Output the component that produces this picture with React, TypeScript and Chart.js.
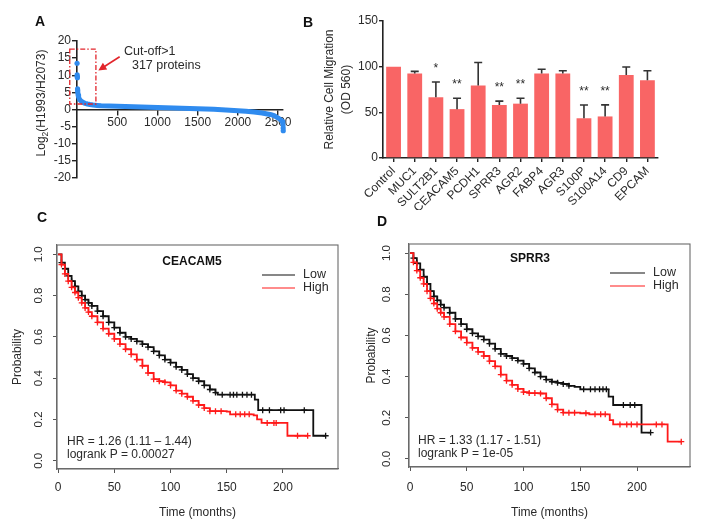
import React, { useEffect, useRef } from "react";
import { Chart, registerables } from "chart.js";

Chart.register(...registerables);

const FONT = "'Liberation Sans', Arial, Helvetica, sans-serif";
const INK = "#2a2a2a";

// ---------- Panel A : sorted log2 ratios ----------
const rankTopA = [1, 2, 3, 5, 7, 9];
const log2TopA = [13.5, 10.1, 9.6, 9.3, 6.0, 5.5];
const rankBandA = [10, 14, 20, 30, 45, 60, 80, 100, 130, 160, 200, 250, 300, 400, 500, 600, 700, 800, 900, 1000, 1100, 1200, 1300, 1400, 1500, 1600, 1700, 1800, 1900, 2000, 2100, 2200, 2300, 2400, 2450, 2500, 2530, 2550, 2558, 2561];
const log2BandA = [5.0, 4.2, 3.6, 3.0, 2.6, 2.3, 2.0, 1.8, 1.6, 1.45, 1.3, 1.2, 1.12, 1.02, 0.95, 0.86, 0.78, 0.72, 0.66, 0.6, 0.53, 0.46, 0.38, 0.3, 0.2, 0.12, 0.04, -0.06, -0.2, -0.38, -0.52, -0.72, -1.0, -1.45, -1.8, -2.5, -3.0, -3.5, -4.1, -4.6];
const rankBottomA = [2562, 2563, 2564, 2565];
const log2BottomA = [-5.4, -6.2, -6.9, -12.4];
const xTicksA = [500, 1000, 1500, 2000, 2500];
const yTicksA = [-20, -15, -10, -5, 0, 5, 10, 15, 20];
const cutBoxRankA = [-90, 235];
const cutBoxLog2A = [1.6, 17.6];
const cutLabelA = ["Cut-off>1", "317 proteins"];

// ---------- Panel B : relative cell migration ----------
const genesB = ["Control", "MUC1", "SULT2B1", "CEACAM5", "PCDH1", "SPRR3", "AGR2", "FABP4", "AGR3", "S100P", "S100A14", "CD9", "EPCAM"];
const migrationB = [100, 92.5, 66.5, 53.5, 79.5, 58, 59.5, 92.5, 92.5, 43.5, 45.5, 91, 85];
const errorB = [0, 2.3, 16.7, 12, 25, 4.3, 6, 4.7, 3, 14.5, 12.7, 8.7, 10.5];
const sigB = ["", "", "*", "**", "", "**", "**", "", "", "**", "**", "", ""];
const yTicksB = [0, 50, 100, 150];

// ---------- Panels C / D : Kaplan-Meier ----------
const kmTicksX = [0, 50, 100, 150, 200];
const kmTicksY = [0, 0.2, 0.4, 0.6, 0.8, 1.0];

const cLowT = [0, 3, 6, 9, 12, 15, 18, 21, 24, 27, 30, 35, 40, 45, 50, 55, 60, 65, 70, 75, 80, 85, 90, 95, 100, 105, 110, 115, 120, 125, 130, 135, 140, 142, 146, 153, 156, 159, 164, 168, 172, 175, 178, 182, 188, 198, 201, 219, 227, 238];
const cLowS = [1.0, 0.96, 0.93, 0.895, 0.87, 0.845, 0.82, 0.80, 0.78, 0.765, 0.75, 0.725, 0.70, 0.67, 0.645, 0.62, 0.60, 0.59, 0.578, 0.565, 0.55, 0.53, 0.51, 0.49, 0.475, 0.455, 0.44, 0.42, 0.40, 0.385, 0.365, 0.345, 0.33, 0.32, 0.32, 0.32, 0.32, 0.32, 0.32, 0.32, 0.32, 0.296, 0.245, 0.245, 0.245, 0.245, 0.245, 0.245, 0.121, 0.121];
const cHighT = [0, 3, 6, 9, 12, 15, 18, 21, 24, 27, 30, 35, 40, 45, 50, 55, 60, 65, 70, 75, 80, 85, 90, 95, 100, 105, 110, 115, 120, 125, 130, 135, 140, 145, 150, 153, 158, 162, 166, 170, 174, 177, 181, 186, 192, 194, 204, 213, 222];
const cHighS = [1.0, 0.95, 0.905, 0.87, 0.84, 0.815, 0.79, 0.765, 0.74, 0.72, 0.70, 0.67, 0.64, 0.615, 0.59, 0.565, 0.54, 0.515, 0.49, 0.46, 0.425, 0.395, 0.385, 0.38, 0.365, 0.34, 0.325, 0.31, 0.29, 0.27, 0.255, 0.24, 0.24, 0.24, 0.238, 0.225, 0.225, 0.225, 0.225, 0.225, 0.22, 0.20, 0.183, 0.183, 0.183, 0.183, 0.121, 0.121, 0.121];

const dLowT = [0, 3, 6, 9, 12, 15, 18, 21, 24, 27, 30, 35, 40, 45, 50, 55, 60, 65, 70, 75, 80, 85, 90, 95, 100, 105, 110, 115, 120, 125, 130, 135, 140, 145, 150, 153, 159, 163, 167, 170, 173, 175, 179, 188, 194, 198, 204, 212];
const dLowS = [1.0, 0.975, 0.95, 0.92, 0.885, 0.85, 0.815, 0.79, 0.77, 0.75, 0.735, 0.71, 0.68, 0.655, 0.63, 0.61, 0.595, 0.58, 0.56, 0.535, 0.51, 0.50, 0.49, 0.478, 0.462, 0.44, 0.42, 0.40, 0.385, 0.375, 0.37, 0.364, 0.355, 0.35, 0.338, 0.338, 0.338, 0.338, 0.338, 0.338, 0.338, 0.303, 0.262, 0.262, 0.262, 0.262, 0.128, 0.128];
const dHighT = [0, 3, 6, 9, 12, 15, 18, 21, 24, 27, 30, 35, 40, 45, 50, 55, 60, 65, 70, 75, 80, 85, 90, 95, 100, 105, 110, 115, 120, 125, 130, 135, 140, 145, 150, 155, 158, 163, 168, 172, 176, 179, 185, 191, 195, 200, 217, 222, 227, 239];
const dHighS = [1.0, 0.955, 0.915, 0.88, 0.85, 0.815, 0.78, 0.755, 0.73, 0.71, 0.69, 0.655, 0.62, 0.59, 0.565, 0.54, 0.52, 0.50, 0.475, 0.45, 0.41, 0.38, 0.36, 0.34, 0.325, 0.32, 0.32, 0.318, 0.295, 0.265, 0.24, 0.225, 0.225, 0.225, 0.222, 0.222, 0.217, 0.217, 0.217, 0.217, 0.189, 0.168, 0.168, 0.168, 0.168, 0.168, 0.168, 0.168, 0.084, 0.084];

// ---------- helpers ----------
const fixedTicks = (vals: number[]) => (s: any) => {
  s.ticks = vals.map((v) => ({ value: v }));
};

function text(ctx: CanvasRenderingContext2D, s: string, x: number, y: number, o: any = {}) {
  ctx.save();
  ctx.font = `${o.bold ? "bold " : ""}${o.size || 12}px ${FONT}`;
  ctx.fillStyle = o.color || INK;
  ctx.textAlign = o.align || "left";
  ctx.textBaseline = o.baseline || "middle";
  ctx.translate(x, y);
  if (o.rot) ctx.rotate(o.rot);
  ctx.fillText(s, 0, 0);
  ctx.restore();
}

const BLUE = "#2F8BEF";
const BAR = "#F96565";

function configA(): any {
  const plug = {
    id: "panelA",
    afterDraw(chart: any) {
      const { ctx, scales } = chart;
      const x = scales.x, y = scales.y;
      ctx.save();
      ctx.strokeStyle = "#E2252B";
      ctx.lineWidth = 1.3;
      ctx.setLineDash([5, 2, 1.5, 2]);
      const bx0 = x.getPixelForValue(cutBoxRankA[0]);
      const bx1 = x.getPixelForValue(cutBoxRankA[1]);
      const by0 = y.getPixelForValue(cutBoxLog2A[0]);
      const by1 = y.getPixelForValue(cutBoxLog2A[1]);
      ctx.strokeRect(bx0, by1, bx1 - bx0, by0 - by1);
      ctx.restore();
      const ax0 = x.getPixelForValue(530), ay0 = y.getPixelForValue(15.4);
      const ax1 = x.getPixelForValue(265), ay1 = y.getPixelForValue(11.4);
      ctx.save();
      ctx.strokeStyle = "#E2252B";
      ctx.fillStyle = "#E2252B";
      ctx.lineWidth = 1.6;
      const ang = Math.atan2(ay1 - ay0, ax1 - ax0);
      ctx.beginPath();
      ctx.moveTo(ax0, ay0);
      ctx.lineTo(ax1 - 5 * Math.cos(ang), ay1 - 5 * Math.sin(ang));
      ctx.stroke();
      ctx.beginPath();
      ctx.moveTo(ax1, ay1);
      ctx.lineTo(ax1 - 8 * Math.cos(ang) + 4 * Math.sin(ang), ay1 - 8 * Math.sin(ang) - 4 * Math.cos(ang));
      ctx.lineTo(ax1 - 8 * Math.cos(ang) - 4 * Math.sin(ang), ay1 - 8 * Math.sin(ang) + 4 * Math.cos(ang));
      ctx.closePath();
      ctx.fill();
      ctx.restore();
      text(ctx, cutLabelA[0], x.getPixelForValue(584), y.getPixelForValue(16.8), { size: 12.5 });
      text(ctx, cutLabelA[1], x.getPixelForValue(683), y.getPixelForValue(12.7), { size: 12.5 });
      ctx.save();
      ctx.translate(42, 103);
      ctx.rotate(-Math.PI / 2);
      ctx.fillStyle = INK;
      ctx.textBaseline = "middle";
      ctx.textAlign = "left";
      const f1 = `12px ${FONT}`, f2 = `8.5px ${FONT}`;
      ctx.font = f1;
      const w1 = ctx.measureText("Log").width;
      const w3 = ctx.measureText("(H1993/H2073)").width;
      ctx.font = f2;
      const w2 = ctx.measureText("2").width;
      let cx = -(w1 + w2 + w3) / 2;
      ctx.font = f1;
      ctx.fillText("Log", cx, 0);
      cx += w1;
      ctx.font = f2;
      ctx.fillText("2", cx, 4);
      cx += w2;
      ctx.font = f1;
      ctx.fillText("(H1993/H2073)", cx, 0);
      ctx.restore();
      text(ctx, "A", 40, 22, { bold: true, size: 14, align: "center", color: "#111" });
    },
  };
  const axisCommon = {
    grid: { drawOnChartArea: false, tickLength: 5, color: "#222", lineWidth: 1.4 },
    border: { display: true, color: "#222", width: 1.6 },
  };
  return {
    type: "scatter",
    data: {
      datasets: [
        {
          data: rankBandA.map((r, i) => ({ x: r, y: log2BandA[i] })),
          showLine: true,
          borderColor: BLUE,
          borderWidth: 5,
          borderCapStyle: "round",
          borderJoinStyle: "round",
          pointRadius: 0,
          clip: false,
        },
        {
          data: rankTopA.map((r, i) => ({ x: r, y: log2TopA[i] })),
          pointRadius: 2.6,
          backgroundColor: BLUE,
          borderWidth: 0,
          clip: false,
        },
        {
          data: rankBottomA.map((r, i) => ({ x: r, y: log2BottomA[i] })),
          pointRadius: 2.6,
          backgroundColor: BLUE,
          borderWidth: 0,
          clip: false,
        },
      ],
    },
    options: {
      responsive: false,
      animation: false,
      events: [],
      layout: { padding: { left: 37, top: 41, right: 17, bottom: 22 } },
      plugins: { legend: { display: false }, tooltip: { enabled: false } },
      scales: {
        x: {
          type: "linear",
          position: { y: 0 },
          min: 0,
          max: 2560,
          afterBuildTicks: fixedTicks(xTicksA),
          ...axisCommon,
          ticks: { font: { family: FONT, size: 12 }, color: INK, padding: 1, maxRotation: 0, autoSkip: false, callback: (v: any) => String(v) },
        },
        y: {
          type: "linear",
          min: -20,
          max: 20,
          afterBuildTicks: fixedTicks(yTicksA),
          afterFit: (s: any) => { s.width = 40; },
          ...axisCommon,
          ticks: { font: { family: FONT, size: 12 }, color: INK, padding: 1, autoSkip: false, callback: (v: any) => String(v) },
        },
      },
    },
    plugins: [plug],
  };
}

function configB(): any {
  const plug = {
    id: "panelB",
    afterDatasetsDraw(chart: any) {
      const { ctx, scales } = chart;
      const x = scales.x, y = scales.y;
      ctx.save();
      ctx.strokeStyle = "#333";
      ctx.lineWidth = 1.6;
      genesB.forEach((g, i) => {
        const px = x.getPixelForValue(i);
        const top = migrationB[i] + errorB[i];
        if (errorB[i] > 0) {
          const y0 = y.getPixelForValue(migrationB[i]);
          const y1 = y.getPixelForValue(top);
          ctx.beginPath();
          ctx.moveTo(px, y0);
          ctx.lineTo(px, y1);
          ctx.moveTo(px - 4, y1);
          ctx.lineTo(px + 4, y1);
          ctx.stroke();
        }
        if (sigB[i]) {
          text(ctx, sigB[i], px, y.getPixelForValue(top) - 7, { size: 12, align: "center", baseline: "bottom" });
        }
      });
      ctx.restore();
    },
    afterDraw(chart: any) {
      const { ctx, chartArea } = chart;
      const cy = (chartArea.top + chartArea.bottom) / 2;
      text(ctx, "Relative Cell Migration", 30, cy, { size: 12, align: "center", rot: -Math.PI / 2 });
      text(ctx, "(OD 560)", 47, cy, { size: 12, align: "center", rot: -Math.PI / 2 });
      text(ctx, "B", 8, 23, { bold: true, size: 14, align: "center", color: "#111" });
    },
  };
  const axisCommon = {
    grid: { drawOnChartArea: false, tickLength: 4, color: "#222", lineWidth: 1.4, offset: false },
    border: { display: true, color: "#222", width: 1.6 },
  };
  return {
    type: "bar",
    data: {
      labels: genesB,
      datasets: [
        {
          data: migrationB,
          backgroundColor: BAR,
          borderWidth: 0,
          barPercentage: 0.7,
          categoryPercentage: 1.0,
        },
      ],
    },
    options: {
      responsive: false,
      animation: false,
      events: [],
      layout: { padding: { left: 53, top: 21, right: 46, bottom: 0 } },
      plugins: { legend: { display: false }, tooltip: { enabled: false } },
      scales: {
        x: {
          ...axisCommon,
          afterFit: (s: any) => { s.height = 52; },
          ticks: { font: { family: FONT, size: 12 }, color: INK, padding: 2, minRotation: 45, maxRotation: 45, autoSkip: false },
        },
        y: {
          min: 0,
          max: 150,
          afterBuildTicks: fixedTicks(yTicksB),
          afterFit: (s: any) => { s.width = 30; },
          ...axisCommon,
          ticks: { font: { family: FONT, size: 12 }, color: INK, padding: 1, autoSkip: false },
        },
      },
    },
    plugins: [plug],
  };
}

function kmDataset(T: number[], S: number[], color: string) {
  return {
    data: T.map((t, i) => ({ x: t, y: S[i] })),
    borderColor: color,
    backgroundColor: color,
    borderWidth: 1.8,
    stepped: "before",
    pointStyle: "cross",
    pointBorderColor: color,
    pointBorderWidth: 1.3,
    pointRadius: (c: any) => {
      const i = c.dataIndex;
      return i > 0 && (T[i] <= 140 || S[i] === S[i - 1]) ? 3 : 0;
    },
  };
}

function configKM(p: any): any {
  const plug = {
    id: "km" + p.letter,
    afterDraw(chart: any) {
      const { ctx, chartArea } = chart;
      ctx.save();
      ctx.strokeStyle = "#6a6a6a";
      ctx.lineWidth = 1.1;
      ctx.strokeRect(chartArea.left, chartArea.top, chartArea.right - chartArea.left, chartArea.bottom - chartArea.top);
      ctx.restore();
      text(ctx, p.title, p.titleX, p.titleY, { bold: true, size: 12, align: "center", color: "#111" });
      ctx.save();
      ctx.lineWidth = 1.2;
      ctx.strokeStyle = "#111";
      ctx.beginPath();
      ctx.moveTo(p.legX0, p.legY);
      ctx.lineTo(p.legX1, p.legY);
      ctx.stroke();
      ctx.strokeStyle = "#FF1A1A";
      ctx.beginPath();
      ctx.moveTo(p.legX0, p.legY + 13);
      ctx.lineTo(p.legX1, p.legY + 13);
      ctx.stroke();
      ctx.restore();
      text(ctx, "Low", p.legX1 + 8, p.legY, { size: 12.5 });
      text(ctx, "High", p.legX1 + 8, p.legY + 13, { size: 12.5 });
      text(ctx, p.hr, p.hrX, p.hrY, { size: 12 });
      text(ctx, p.lr, p.hrX, p.hrY + 13, { size: 12 });
      const cx = (chartArea.left + chartArea.right) / 2;
      const cy = (chartArea.top + chartArea.bottom) / 2;
      text(ctx, "Probability", p.ytX, cy, { size: 12, align: "center", rot: -Math.PI / 2 });
      text(ctx, "Time (months)", cx, p.xtY, { size: 12, align: "center" });
      text(ctx, p.letter, p.letX, p.letY, { bold: true, size: 14, align: "center", color: "#111" });
    },
  };
  const axisCommon = {
    grid: { drawOnChartArea: false, tickLength: 4, color: "#555", lineWidth: 1 },
    border: { display: true, color: "#6a6a6a", width: 1.1 },
  };
  return {
    type: "line",
    data: {
      datasets: [
        kmDataset(p.highT, p.highS, "#FF1A1A"),
        kmDataset(p.lowT, p.lowS, "#111111"),
      ],
    },
    options: {
      responsive: false,
      animation: false,
      events: [],
      layout: { padding: p.padding },
      plugins: { legend: { display: false }, tooltip: { enabled: false } },
      scales: {
        x: {
          type: "linear",
          min: p.xmin,
          max: p.xmax,
          afterBuildTicks: fixedTicks(kmTicksX),
          afterFit: (s: any) => { s.height = 50; },
          ...axisCommon,
          ticks: { font: { family: FONT, size: 12 }, color: INK, padding: p.xpad, maxRotation: 0, autoSkip: false },
        },
        y: {
          type: "linear",
          min: p.ymin,
          max: p.ymax,
          afterBuildTicks: fixedTicks(kmTicksY),
          afterFit: (s: any) => { s.width = 40; },
          ...axisCommon,
          ticks: {
            font: { family: FONT, size: 11.5 },
            color: INK,
            padding: p.ypad,
            minRotation: 90,
            maxRotation: 90,
            crossAlign: "center",
            autoSkip: false,
            callback: (v: any) => Number(v).toFixed(1),
          },
        },
      },
    },
    plugins: [plug],
  };
}

function ChartCanvas({ left, top, width, height, make }: any) {
  const ref = useRef<HTMLCanvasElement | null>(null);
  useEffect(() => {
    if (!ref.current) return;
    const chart = new Chart(ref.current, make());
    return () => chart.destroy();
  }, []);
  return (
    <canvas
      ref={ref}
      width={width}
      height={height}
      style={{ position: "absolute", left, top, width, height }}
    />
  );
}

export default function App() {
  const makeC = () =>
    configKM({
      letter: "C", letX: 42, letY: 18,
      title: "CEACAM5", titleX: 192, titleY: 62,
      legX0: 262, legX1: 295, legY: 75,
      hr: "HR = 1.26 (1.11 \u2013 1.44)", lr: "logrank P = 0.00027", hrX: 67, hrY: 242,
      ytX: 18, xtY: 313,
      lowT: cLowT, lowS: cLowS, highT: cHighT, highS: cHighS,
      padding: { left: 17, top: 45, right: 14, bottom: 9 },
      xmin: -1, xmax: 249, ymin: -0.04, ymax: 1.045, xpad: 7, ypad: 6,
    });
  const makeD = () =>
    configKM({
      letter: "D", letX: 30, letY: 22,
      title: "SPRR3", titleX: 178, titleY: 59,
      legX0: 258, legX1: 293, legY: 73,
      hr: "HR = 1.33 (1.17 - 1.51)", lr: "logrank P = 1e-05", hrX: 66, hrY: 241,
      ytX: 20, xtY: 313,
      lowT: dLowT, lowS: dLowS, highT: dHighT, highS: dHighS,
      padding: { left: 17, top: 44, right: 14, bottom: 11 },
      xmin: -0.9, xmax: 246.7, ymin: -0.039, ymax: 1.044, xpad: 9, ypad: 10,
    });
  return (
    <div style={{ position: "absolute", left: 0, top: 0, width: 704, height: 528, background: "#fff", overflow: "hidden" }}>
      <ChartCanvas left={0} top={0} width={300} height={200} make={configA} />
      <ChartCanvas left={300} top={0} width={404} height={210} make={configB} />
      <ChartCanvas left={0} top={200} width={352} height={328} make={makeC} />
      <ChartCanvas left={352} top={200} width={352} height={328} make={makeD} />
    </div>
  );
}
